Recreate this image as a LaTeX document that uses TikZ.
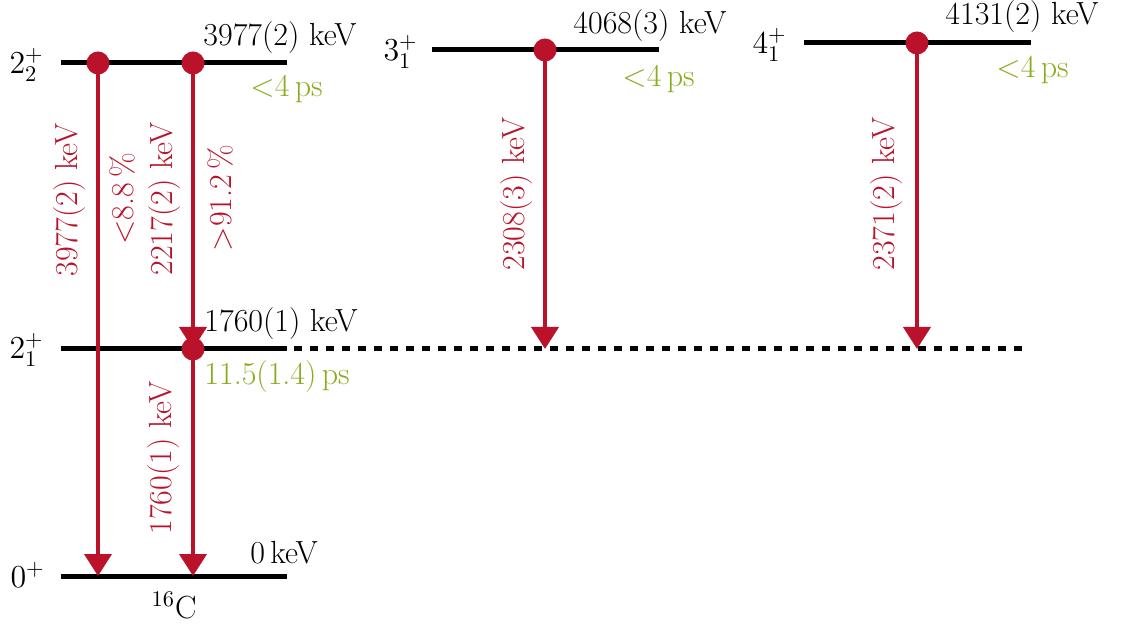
\RequirePackage{fix-cm}
\documentclass[tikz,border=0pt]{standalone}
\usepackage{fontspec}
\usetikzlibrary{arrows.meta}
\definecolor{gred}{RGB}{185,18,42}
\definecolor{lgreen}{RGB}{135,172,30}
\begin{document}
\begin{tikzpicture}[x=0.5pt,y=-0.5pt,
  every node/.style={font=\fontsize{16}{19}\selectfont, inner sep=0pt},
  level/.style={line width=2.5pt, black},
  gamma/.style={draw=gred, line width=2pt, -{Triangle[width=13.5pt,length=11pt]}},
  dotc/.style={circle, fill=gred, minimum size=11.5pt, inner sep=0pt},
  lab/.style={anchor=base west},
  life/.style={anchor=base west, text=lgreen},
  glab/.style={rotate=90, text=gred},
  spin/.style={anchor=east}]
\useasboundingbox (0,0) rectangle (1124,625);
% level end points
\coordinate (a0) at (61,576);  \coordinate (b0) at (287,576);
\coordinate (a1) at (61,349);  \coordinate (b1) at (287,349); \coordinate (c1) at (1028,349);
\coordinate (a2) at (61,63);   \coordinate (b2) at (287,63);
\coordinate (a3) at (432,50);  \coordinate (b3) at (659,50);
\coordinate (a4) at (804,43);  \coordinate (b4) at (1031,43);
% levels
\draw[level] (a0) -- (b0);
\draw[level] (a1) -- (b1);
\draw[level, dash pattern=on 4pt off 4pt, dash phase=-3.5pt] (b1) -- (c1);
\draw[level] (a2) -- (b2);
\draw[level] (a3) -- (b3);
\draw[level] (a4) -- (b4);
% transition points
\coordinate (p1) at (98,63);
\coordinate (p2) at (193,63);
\coordinate (p3) at (193,349);
\coordinate (p4) at (545,50);
\coordinate (p5) at (917,43);
\coordinate (e1) at (98,576);
\coordinate (e3) at (193,576);
\coordinate (e4) at (545,349);
\coordinate (e5) at (917,349);
% gamma transitions
\draw[gamma] (p1) -- (e1);
\draw[gamma] (p2) -- (p3);
\draw[gamma] (p3) -- (e3);
\draw[gamma] (p4) -- (e4);
\draw[gamma] (p5) -- (e5);
% dots
\node[dotc] (d1) at (p1) {};
\node[dotc] (d2) at (p2) {};
\node[dotc] (d3) at (p3) {};
\node[dotc] (d4) at (p4) {};
\node[dotc] (d5) at (p5) {};
% spins
\node[spin] (s0) at (45,575) {$0^+$};
\node[spin] (s1) at (44,350) {$2^+_1$};
\node[spin] (s2) at (44,65) {$2^+_2$};
\node[spin] (s3) at (418,52) {$3^+_1$};
\node[spin] (s4) at (787,45) {$4^+_1$};
% energies and lifetimes
\node[lab] (en2) at (203,46) {3977(2) keV};
\node[life] (t2) at (250,97) {$<$4\,ps};
\node[lab] (en3) at (573,34) {4068(3) keV};
\node[life] (t3) at (622,87) {$<$4\,ps};
\node[lab] (en4) at (945,25) {4131(2) keV};
\node[life] (t4) at (996,78) {$<$4\,ps};
\node[lab] (en1) at (204,332) {1760(1) keV};
\node[life] (t1) at (204,385) {11.5(1.4)\,ps};
\node[lab] (en0) at (250,563) {0\,keV};
\node[anchor=base] (nuc) at (174,618) {$^{16}$C};
% gamma labels
\node[glab] (g1) at (70,200) {3977(2) keV};
\node[glab] (br1) at (122,199) {$<$8.8\,\%};
\node[glab] (g2) at (165,199) {2217(2) keV};
\node[glab] (br2) at (220,198) {$>$91.2\,\%};
\node[glab] (g3) at (164,458) {1760(1) keV};
\node[glab] (g4) at (517,194) {2308(3) keV};
\node[glab] (g5) at (887,194) {2371(2) keV};
\end{tikzpicture}
\end{document}
